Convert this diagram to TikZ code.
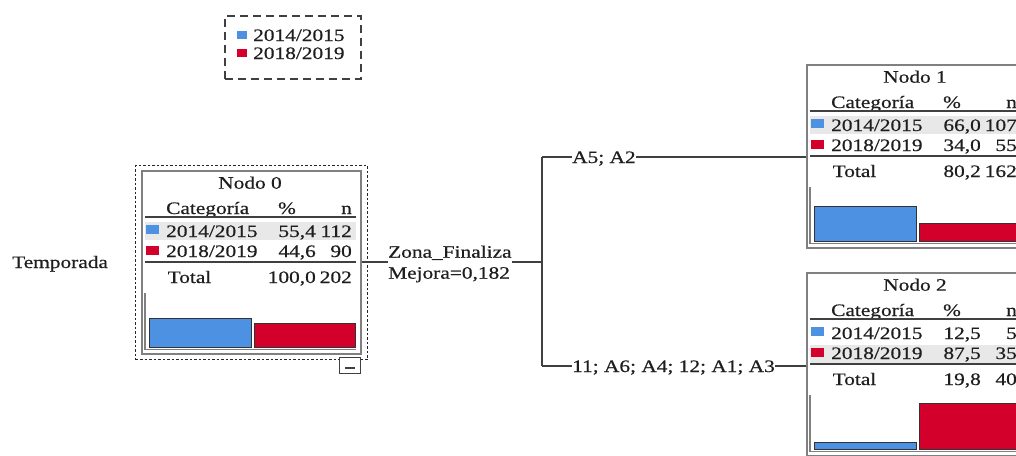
\documentclass[tikz,border=0pt]{standalone}
\usepackage{fontspec}
\setmainfont{Liberation Serif}[FakeStretch=1.22,FakeBold=0.5]
\definecolor{cblue}{RGB}{77,146,226}
\definecolor{cred}{RGB}{210,0,42}
\definecolor{lin}{RGB}{64,64,64}
\definecolor{txt}{RGB}{30,30,30}
\definecolor{rowbg}{RGB}{232,232,232}
\definecolor{frame}{RGB}{128,128,128}
\tikzset{
  txtnode/.style={inner sep=0pt, text=txt, font=\fontsize{17.5}{21}\selectfont},
  conn/.style={draw=lin, line width=1.4pt},
  rulestyle/.style={draw=lin, line width=1.5pt},
  axisline/.style={draw=frame, line width=1.5pt},
  barstyle/.style={draw=lin!80!black, line width=1pt},
  boxframe/.style={draw=frame, line width=2.2pt, inner sep=0pt, minimum width=219pt, minimum height=183pt, anchor=north west},
  selframe/.style={draw=black!85, line width=1.4pt, dash pattern=on 2.5pt off 2pt, inner sep=0pt, anchor=north west},
  legendframe/.style={draw=lin, line width=1.5pt, dash pattern=on 8pt off 5pt, inner sep=0pt, anchor=north west},
}
\newcommand\nodocontent[9]{%
  \fill[rowbg] (4,#9) rectangle (215,{#9+18});
  \node[boxframe] (#1) at (0,0) {};
  \node[txtnode, anchor=base] (#1-title) at (109,18.7) {#2};
  \node[txtnode, anchor=base west] (#1-cat) at (25,44) {Categoría};
  \node[txtnode, anchor=base] (#1-pct) at (146,44) {\%};
  \node[txtnode, anchor=base east] (#1-n) at (211,44) {n};
  \draw[rulestyle] (4,47) -- (215,47);
  \fill[cblue] (5,55) rectangle (18,64);
  \fill[cred] (5,76) rectangle (18,85);
  \node[txtnode, anchor=base west] (#1-c1) at (25,67) {2014/2015};
  \node[txtnode, anchor=base east] (#1-p1) at (175,67) {#3};
  \node[txtnode, anchor=base east] (#1-n1) at (211,67) {#4};
  \node[txtnode, anchor=base west] (#1-c2) at (25,87) {2018/2019};
  \node[txtnode, anchor=base east] (#1-p2) at (175,87) {#5};
  \node[txtnode, anchor=base east] (#1-n2) at (211,87) {#6};
  \draw[rulestyle] (4,92) -- (215,92);
  \node[txtnode, anchor=base west] (#1-tot) at (26.5,113) {Total};
  \node[txtnode, anchor=base east] (#1-pt) at (175,113) {#7};
  \node[txtnode, anchor=base east] (#1-nt) at (211,113) {#8};
}
\newcommand\nodobars[2]{%
  \draw[axisline] (4,123) -- (4,179.5) -- (215,179.5);
  \draw[barstyle, fill=cblue] (8,177) rectangle (110,{177-#1});
  \draw[barstyle, fill=cred] (113,177) rectangle (214,{177-#2});
}
\begin{document}
\begin{tikzpicture}[x=1pt, y=-1pt]
\useasboundingbox (0,0) rectangle (1016,455);
\clip (0,0) rectangle (1016,455);
\fill[white] (0,0) rectangle (1016,455);

% legend
\node[legendframe, minimum width=136pt, minimum height=63pt] (legend) at (224,15) {};
\fill[cblue] (237,31) rectangle (247,39);
\fill[cred] (237,49) rectangle (247,57);
\node[txtnode, anchor=base west] (leg1) at (253,41) {2014/2015};
\node[txtnode, anchor=base west] (leg2) at (253,59) {2018/2019};

% target label
\node[txtnode, anchor=base west] (temp) at (12,268) {Temporada};

% selection frame of node 0
\node[selframe, minimum width=232pt, minimum height=194pt] (sel0) at (135,165) {};

\begin{scope}[shift={(141,170)}]
  \nodocontent{n0}{Nodo 0}{55,4}{112}{44,6}{90}{100,0}{202}{52}
  \nodobars{28.8}{23.2}
\end{scope}
\begin{scope}[shift={(806,64)}]
  \nodocontent{n1}{Nodo 1}{66,0}{107}{34,0}{55}{80,2}{162}{52}
  \nodobars{34.3}{17.7}
\end{scope}
\begin{scope}[shift={(806,272)}]
  \nodocontent{n2}{Nodo 2}{12,5}{5}{87,5}{35}{19,8}{40}{73}
  \nodobars{6.5}{45.5}
\end{scope}

% collapse icon
\node[draw=lin, fill=white, line width=1pt, inner sep=0pt, minimum width=21pt, minimum height=16pt, anchor=north west] (coll) at (339,357) {};
\draw[lin, line width=1.2pt] ([xshift=-5pt,yshift=-2.5pt]coll.center) -- ([xshift=5pt,yshift=-2.5pt]coll.center);

% split
\node[txtnode, anchor=west, align=left] (split) at (388,264) {Zona\_Finaliza\\Mejora=0,182};
\coordinate (j) at (542,262);
\coordinate (b1) at (542,157);
\coordinate (b2) at (542,366);
\node[txtnode, anchor=base west] (l1) at (572,163) {A5; A2};
\node[txtnode, anchor=base west] (l2) at (572,372) {11; A6; A4; 12; A1; A3};

\draw[conn] (n0.east |- j) -- (split.west |- j);
\draw[conn] (split.east |- j) -- (j);
\draw[conn] (b1) -- (b2);
\draw[conn] (b1) -- (b1 -| l1.west);
\draw[conn] (l1.east |- b1) -- (b1 -| n1.west);
\draw[conn] (b2) -- (b2 -| l2.west);
\draw[conn] (l2.east |- b2) -- (b2 -| n2.west);
\end{tikzpicture}
\end{document}
